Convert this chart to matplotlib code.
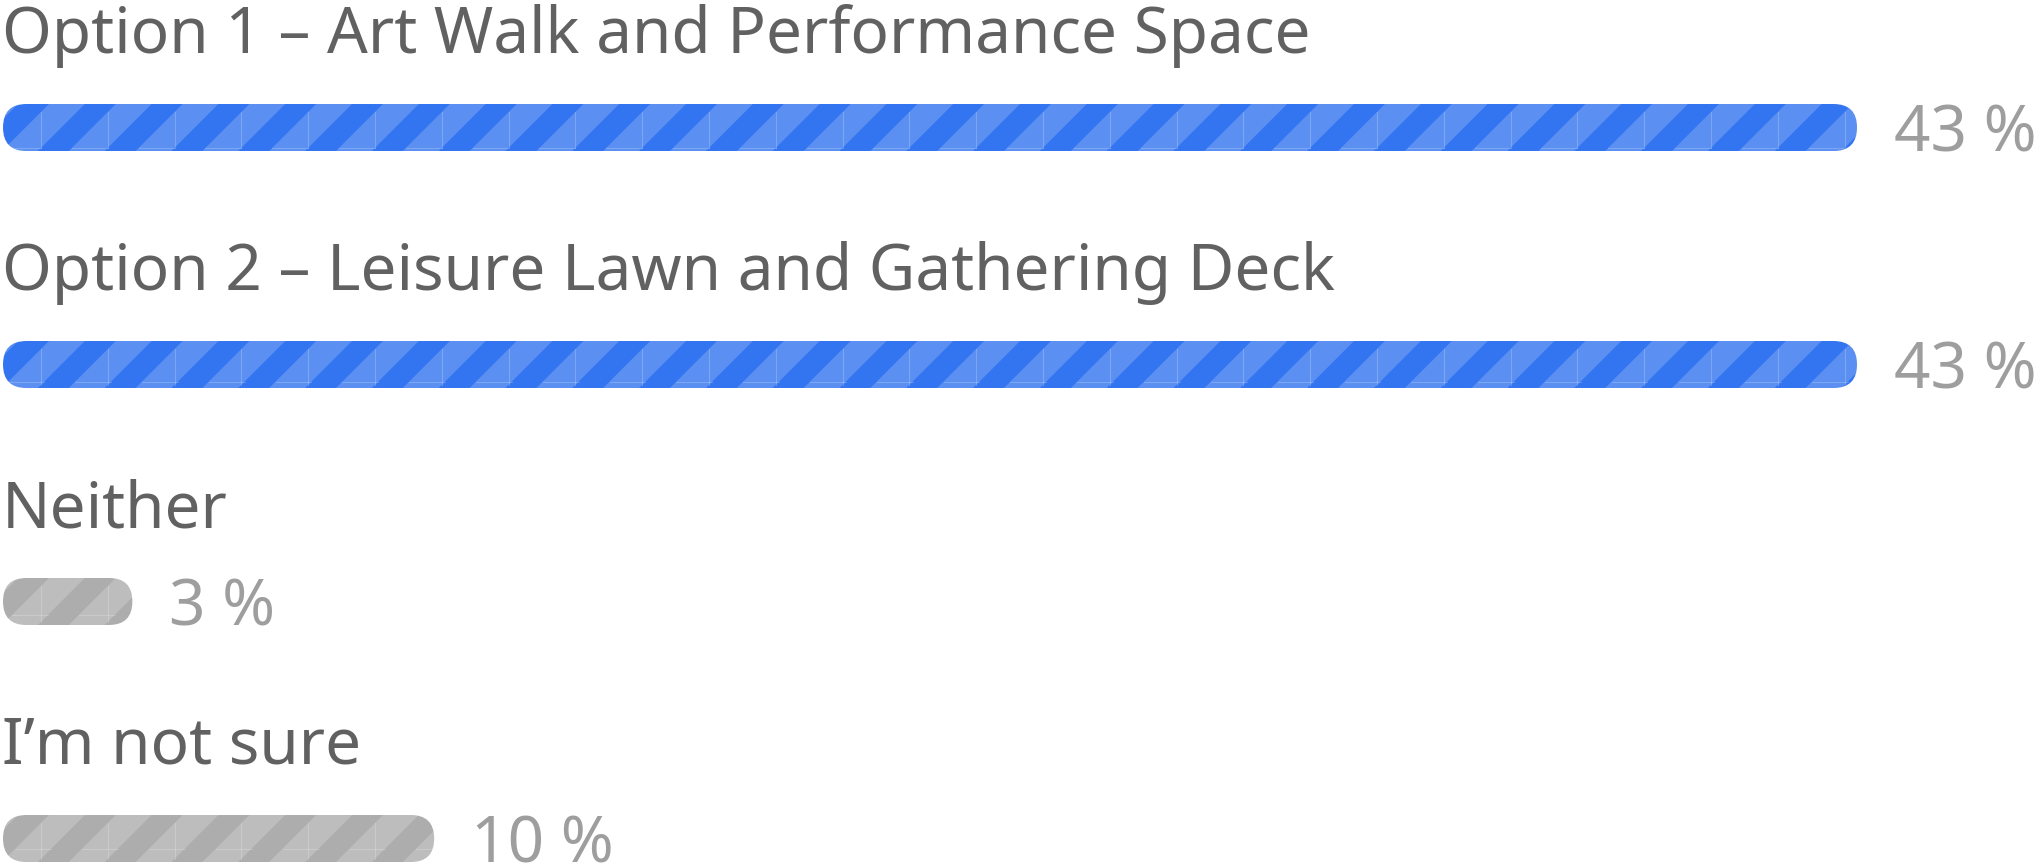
import numpy as np
import matplotlib
matplotlib.use("Agg")
import matplotlib.pyplot as plt
from matplotlib.patches import FancyBboxPatch, Polygon
from matplotlib.lines import Line2D
from matplotlib.transforms import IdentityTransform, offset_copy

# Survey results
labels = [
    "Option 1 – Art Walk and Performance Space",
    "Option 2 – Leisure Lawn and Gathering Deck",
    "Neither",
    "I’m not sure",
]
percents = [43, 43, 3, 10]
value_labels = [f"{p} %" for p in percents]
bar_colors = ["#3375F0", "#3375F0", "#ADADAD", "#ADADAD"]

W, H, DPI = 2040, 864, 100
FONT = ["Noto Sans", "DejaVu Sans"]
TITLE_COLOR = "#616161"
VALUE_COLOR = "#9E9E9E"
FONT_SIZE = 46

fig = plt.figure(figsize=(W / DPI, H / DPI), dpi=DPI)
ax = fig.add_axes([0, 0, 1, 1])
ax.set_axis_off()

px_per_pct = 1854 / 43
row_pitch = 237
first_center = 127.5
ax.set_xlim(-3 / px_per_pct, (W - 3) / px_per_pct)
ax.set_ylim((H - first_center) / row_pitch, -first_center / row_pitch)
ax.set_autoscale_on(False)
bar_h = 47 / row_pitch

# stripe pattern (pixel units)
PERIOD = 66.8
LIGHT_W = PERIOD - 31
PHASE = 49
TILE_X0, TILE_H, TILE_Y0 = 41, 46.7, 148

ident = IdentityTransform()

for i, (lab, v, vl, col) in enumerate(zip(labels, percents, value_labels, bar_colors)):
    (x0, y0) = ax.transData.transform((0, i + bar_h / 2))
    (x1, y1) = ax.transData.transform((v, i - bar_h / 2))
    h = y1 - y0
    pill = FancyBboxPatch((x0, y0), x1 - x0, h,
                          boxstyle=f"round,pad=0,rounding_size={h / 2}",
                          transform=ident, fc=col, ec="none")
    ax.add_patch(pill)

    # light diagonal stripes
    k0 = int(np.floor((x0 - PHASE - LIGHT_W) / PERIOD)) - 1
    k1 = int(np.ceil((x1 + h - PHASE) / PERIOD)) + 1
    for k in range(k0, k1 + 1):
        a = PHASE + k * PERIOD
        poly = Polygon([(a, y1), (a + LIGHT_W, y1), (a + LIGHT_W - h, y0), (a - h, y0)],
                       closed=True, transform=ident, fc="white", ec="none", alpha=0.2)
        ax.add_patch(poly)
        poly.set_clip_path(pill)

    # faint tile seams over the light stripes
    ds = np.linspace(0, h, 400)
    xs = TILE_X0
    while xs < x1:
        if xs > x0:
            light = ((xs + ds - PHASE) % PERIOD) < LIGHT_W
            idx = np.flatnonzero(np.diff(np.r_[0, light.astype(int), 0]))
            for s, e in zip(idx[::2], idx[1::2]):
                ln = Line2D([xs, xs], [y1 - ds[s], y1 - ds[e - 1]], transform=ident,
                            color="white", alpha=0.2, lw=0.8)
                ax.add_line(ln)
                ln.set_clip_path(pill)
        xs += PERIOD
    top_img = H - y1
    ys = TILE_Y0 + TILE_H * np.arange(-5, 20)
    for Y in ys:
        d = Y - top_img
        if 0 < d < h:
            yd = H - Y
            for k in range(k0, k1 + 1):
                a = PHASE - d + k * PERIOD
                ln = Line2D([a, a + LIGHT_W], [yd, yd], transform=ident,
                            color="white", alpha=0.2, lw=0.8)
                ax.add_line(ln)
                ln.set_clip_path(pill)

    # category title above the bar
    ax.text(0, i - bar_h / 2 - 51 / row_pitch, lab,
            transform=offset_copy(ax.transData, fig, x=-1, y=0, units="dots"),
            ha="left", va="baseline", fontsize=FONT_SIZE, color=TITLE_COLOR, family=FONT)
    # percentage next to the bar end
    ax.text(v, i + bar_h / 2, vl,
            transform=offset_copy(ax.transData, fig, x=37, y=-1, units="dots"),
            ha="left", va="baseline", fontsize=FONT_SIZE, color=VALUE_COLOR, family=FONT)

fig.savefig("out.png", dpi=DPI)
